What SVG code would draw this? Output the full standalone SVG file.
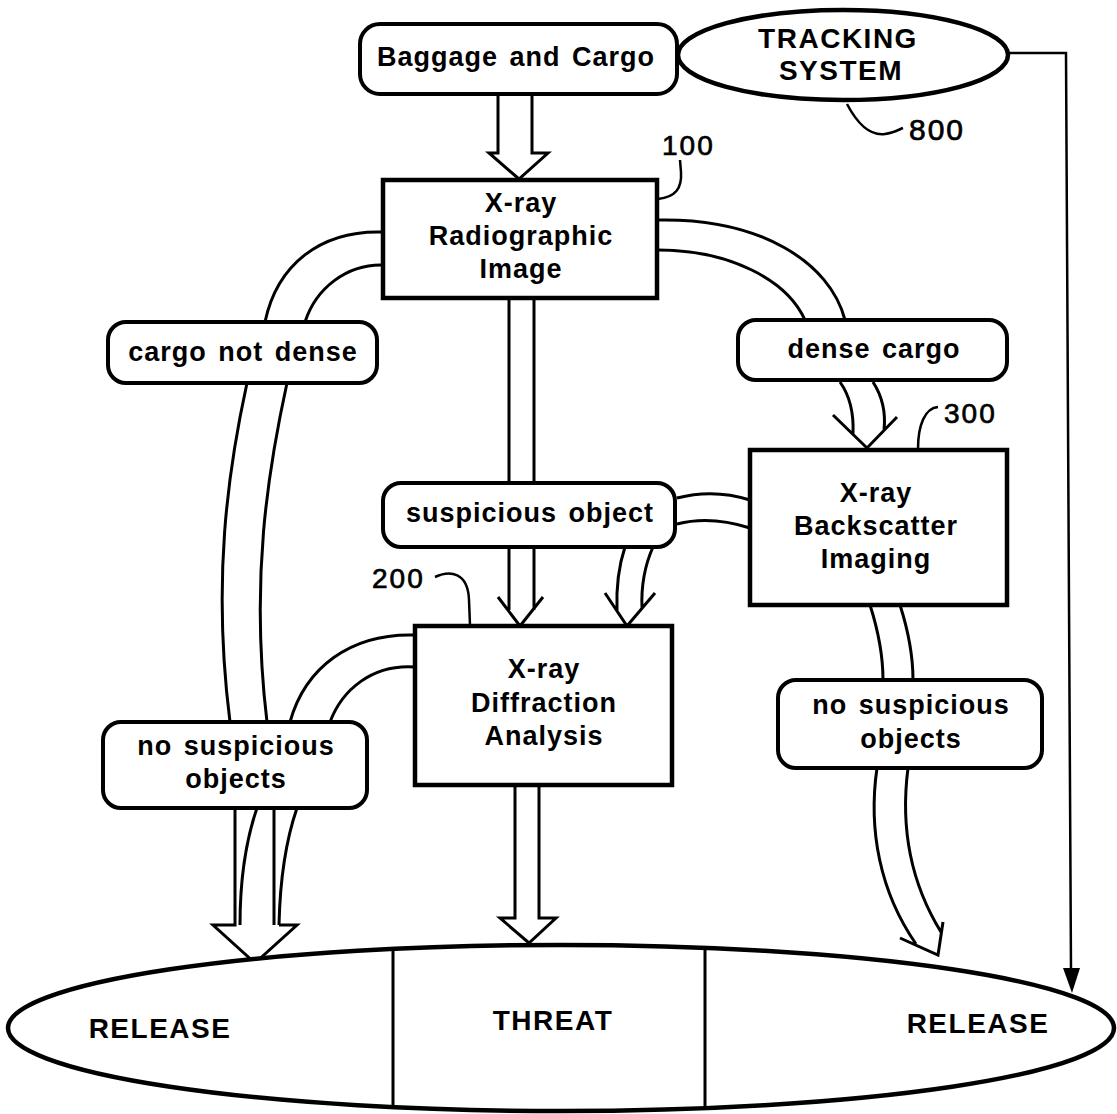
<svg xmlns="http://www.w3.org/2000/svg" width="1117" height="1114" viewBox="0 0 1117 1114">
<style>
.box{fill:#fff;stroke:#000;stroke-width:4.5}
.lbl{fill:#fff;stroke:#000;stroke-width:4}
.ln{fill:none;stroke:#000;stroke-width:3;stroke-linejoin:miter}
.thin{fill:none;stroke:#000;stroke-width:2.5}
.t{font-family:"Liberation Sans",Arial,Helvetica,sans-serif;font-weight:bold;font-size:27px;letter-spacing:1px;word-spacing:3px;text-anchor:middle;fill:#000}
.big{font-size:28px;letter-spacing:1.5px}
.num{font-family:"Liberation Sans",Arial,Helvetica,sans-serif;font-size:28px;letter-spacing:2px;fill:#000;stroke:#000;stroke-width:0.7}
</style>
<rect width="1117" height="1114" fill="#fff"/>

<g id="connectors">
  <!-- Baggage -> Radiographic fat arrow -->
  <path class="ln" d="M498,95 L498,153 L489,153 L519,179 L548,153 L532,153 L532,95"/>
  <!-- Radiographic -> suspicious object shaft -->
  <path class="ln" d="M509,298 L509,483 M534,298 L534,483"/>
  <!-- suspicious object -> Diffraction straight open arrow -->
  <path class="ln" d="M509,547 L509,610 M534,547 L534,610 M498,597 L520,626 L543,597"/>
  <!-- suspicious object -> Diffraction curved open arrow -->
  <path class="ln" d="M625,547 C619,565 616,585 617,611 M653,547 C645,565 641,585 642,608 M605,593 L627,626 L655,593"/>
  <!-- Radiographic -> cargo not dense -->
  <path class="ln" d="M383,232 C320,230 277,265 265,322 M383,265 C347,264 316,288 305,322"/>
  <!-- cargo not dense -> left no suspicious -->
  <path class="ln" d="M247,383 C228,470 212,580 230,722 M287,383 C268,470 250,580 267,722"/>
  <!-- Diffraction -> left no suspicious -->
  <path class="ln" d="M415,635 C350,633 305,668 290,722 M415,667 C372,664 342,690 330,722"/>
  <!-- left no suspicious -> RELEASE fat arrow -->
  <path class="ln" d="M235,808 L235,925 L213,925 L255,963 L297,925 L279,925 M274,808 L274,925 M257,808 C246,840 240,880 240,925 M297,808 C286,840 280,880 279,925"/>
  <!-- Radiographic -> dense cargo -->
  <path class="ln" d="M658,220 C760,218 830,262 845,320 M658,250 C730,250 787,280 805,320"/>
  <!-- dense cargo -> Backscatter open arrow -->
  <path class="ln" d="M840,382 C850,396 854,412 853,434 M873,382 C882,396 886,412 884,430 M833,415 L867,448 L897,417"/>
  <!-- Backscatter -> suspicious object -->
  <path class="ln" d="M677,498 C700,492 725,492 750,500 M677,524 C700,518 725,520 750,528"/>
  <!-- Backscatter -> right no suspicious -->
  <path class="ln" d="M870,605 C878,630 883,655 883,680 M900,605 C908,630 913,655 913,680"/>
  <!-- right no suspicious -> RELEASE curved open arrow -->
  <path class="ln" d="M877,768 C868,830 880,892 916,944 M908,768 C900,830 912,885 941,932 M900,938 L938,955 L943,922"/>
  <!-- Diffraction -> THREAT fat arrow -->
  <path class="ln" d="M515,785 L515,918 L500,918 L529,943 L556,918 L539,918 L539,785"/>
  <!-- Tracking system -> RELEASE -->
  <path class="thin" d="M1008,53 L1066,53 L1071,970"/>
  <polygon points="1063,968 1080,968 1072,993" fill="#000"/>
</g>

<g id="refs">
  <path class="thin" d="M658,199 C676,197 682,188 681,172 L680,160"/>
  <text class="num" x="662" y="155">100</text>
  <path class="thin" d="M435,577 C450,570 468,572 469,600 L470,625"/>
  <text class="num" x="372" y="588">200</text>
  <path class="thin" d="M918,449 C918,425 925,408 938,407"/>
  <text class="num" x="944" y="423">300</text>
  <path class="thin" d="M847,104 C858,125 870,136 885,134 C893,133 898,130 903,128"/>
  <text class="num" x="909" y="140" style="font-size:30px">800</text>
</g>

<g id="baggage">
  <rect class="lbl" x="360" y="24" width="317" height="70" rx="20"/>
  <text class="t" x="516" y="66">Baggage and Cargo</text>
</g>

<g id="tracking">
  <ellipse class="box" cx="843" cy="55" rx="165" ry="45"/>
  <text class="t big" x="838" y="48">TRACKING</text>
  <text class="t big" x="841" y="80">SYSTEM</text>
</g>

<g id="radiographic">
  <rect class="box" x="383" y="180" width="274" height="118"/>
  <text class="t" x="521" y="212">X-ray</text>
  <text class="t" x="521" y="245">Radiographic</text>
  <text class="t" x="521" y="278">Image</text>
</g>

<g id="cargo-not-dense">
  <rect class="lbl" x="108" y="322" width="269" height="61" rx="18"/>
  <text class="t" x="243" y="361">cargo not dense</text>
</g>

<g id="dense-cargo">
  <rect class="lbl" x="738" y="320" width="269" height="60" rx="18"/>
  <text class="t" x="874" y="358">dense cargo</text>
</g>

<g id="suspicious-object">
  <rect class="lbl" x="383" y="483" width="292" height="64" rx="18"/>
  <text class="t" x="530" y="522">suspicious object</text>
</g>

<g id="backscatter">
  <rect class="box" x="750" y="450" width="257" height="155"/>
  <text class="t" x="876" y="502">X-ray</text>
  <text class="t" x="876" y="535">Backscatter</text>
  <text class="t" x="876" y="568">Imaging</text>
</g>

<g id="diffraction">
  <rect class="box" x="415" y="626" width="257" height="159"/>
  <text class="t" x="544" y="678">X-ray</text>
  <text class="t" x="544" y="712">Diffraction</text>
  <text class="t" x="544" y="745">Analysis</text>
</g>

<g id="no-suspicious-left">
  <rect class="lbl" x="103" y="722" width="264" height="86" rx="18"/>
  <text class="t" x="236" y="755">no suspicious</text>
  <text class="t" x="236" y="788">objects</text>
</g>

<g id="no-suspicious-right">
  <rect class="lbl" x="778" y="680" width="264" height="88" rx="18"/>
  <text class="t" x="911" y="714">no suspicious</text>
  <text class="t" x="911" y="748">objects</text>
</g>

<g id="outcome">
  <ellipse class="box" cx="561" cy="1028" rx="553" ry="83"/>
  <line x1="393" y1="949" x2="393" y2="1107" stroke="#000" stroke-width="3"/>
  <line x1="705" y1="948" x2="705" y2="1108" stroke="#000" stroke-width="3"/>
  <text class="t big" x="160" y="1038">RELEASE</text>
  <text class="t big" x="553" y="1030">THREAT</text>
  <text class="t big" x="978" y="1033">RELEASE</text>
</g>
</svg>
